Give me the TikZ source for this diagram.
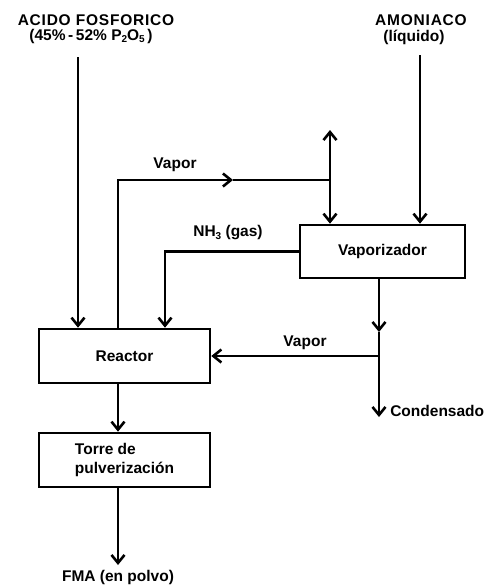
\documentclass[tikz,border=0pt]{standalone}
\usepackage{fontspec}
\setmainfont{Liberation Sans}
\usetikzlibrary{arrows.meta}
\newcommand{\sbs}[1]{\raisebox{-0.3ex}{\fontsize{10}{12}\selectfont #1}}
\begin{document}
\begin{tikzpicture}[x=1pt,y=-1pt,
  line width=2.6pt,
  flow/.style={-{Straight Barb[length=8pt,width=13pt]}},
  box/.style={draw,rectangle,minimum width=171pt,minimum height=54pt,inner sep=0pt},
  lbl/.style={inner sep=0pt,font=\fontsize{15.5}{19}\selectfont\bfseries},
  head/.style={lbl,font=\fontsize{15.5}{19}\selectfont\bfseries\addfontfeature{LetterSpace=5}}]
\useasboundingbox (0,0) rectangle (488,587);
% labels
\node[head] (acid1) at (96,20) {ACIDO FOSFORICO};
\node[lbl] (acid2) at (91,36) {(45\%\,-\,52\% P\sbs{2}O\sbs{5}\,)};
\node[head] (amon1) at (421,20) {AMONIACO};
\node[lbl] (amon2) at (414,37) {(líquido)};
% boxes
\node[box,lbl] (reactor) at (124.5,356) {Reactor};
\node[box,lbl,minimum width=165pt,minimum height=53pt] (vap) at (382.5,251.5) {Vaporizador};
\node[box,lbl,align=left] (torre) at (124.5,460) {Torre de\\pulverización};
% coordinates
\coordinate (acidtop) at (78,57);
\coordinate (amontop) at (420,55);
\coordinate (c1) at (118,180);
\coordinate (m1) at (233,180);
\coordinate (j1) at (330,180);
\coordinate (vout) at (330,130);
\coordinate (n1) at (165,251.5);
\coordinate (j2) at (379,356);
\coordinate (m2) at (379,332);
\coordinate (cond) at (379,417);
\coordinate (fma) at (118,565);
% connectors
\draw[flow] (acidtop) -- (acidtop |- reactor.north);
\draw[flow] (amontop) -- (amontop |- vap.north);
\draw[flow] (reactor.north -| c1) -- (c1) -- (m1);
\draw (m1) -- (j1);
\draw[flow] (j1) -- (vout);
\draw[flow] (j1) -- (j1 |- vap.north);
\draw[flow] (vap.west) -- (n1) -- (n1 |- reactor.north);
\draw[flow] (vap.south -| j2) -- (m2);
\draw (m2) -- (j2);
\draw[flow] (j2) -- (cond);
\draw[flow] (j2) -- (reactor.east);
\draw[flow] (reactor.south -| c1) -- (torre.north -| c1);
\draw[flow] (torre.south -| c1) -- (fma);
% flow labels
\node[lbl] (vaplbl1) at (175,165) {Vapor};
\node[lbl] (nh3lbl) at (228,233) {NH\sbs{3} (gas)};
\node[lbl] (vaplbl2) at (305,343) {Vapor};
\node[lbl,anchor=west] (condlbl) at (389,411) {Condensado};
\node[lbl] (fmalbl) at (118,577) {FMA (en polvo)};
\end{tikzpicture}
\end{document}
